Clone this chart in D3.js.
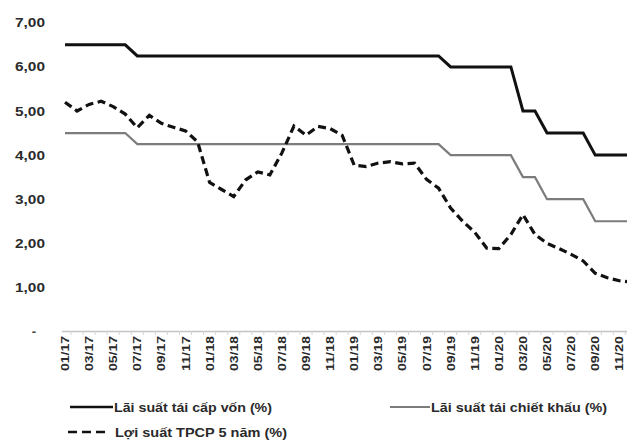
<!DOCTYPE html>
<html><head><meta charset="utf-8">
<script src="https://cdn.jsdelivr.net/npm/d3@7/dist/d3.min.js"></script>
<style>
html,body{margin:0;padding:0;background:#fff;}
svg{display:block;font-family:"Liberation Sans Narrow","Liberation Sans",Arial,sans-serif;}
</style></head>
<body><svg id="chart" width="627" height="444"></svg>
<script>
const categories = ["01/17","02/17","03/17","04/17","05/17","06/17","07/17","08/17","09/17","10/17","11/17","12/17",
"01/18","02/18","03/18","04/18","05/18","06/18","07/18","08/18","09/18","10/18","11/18","12/18",
"01/19","02/19","03/19","04/19","05/19","06/19","07/19","08/19","09/19","10/19","11/19","12/19",
"01/20","02/20","03/20","04/20","05/20","06/20","07/20","08/20","09/20","10/20","11/20","12/20"];
const refinancing = [6.5,6.5,6.5,6.5,6.5,6.5,6.25,6.25,6.25,6.25,6.25,6.25,
6.25,6.25,6.25,6.25,6.25,6.25,6.25,6.25,6.25,6.25,6.25,6.25,
6.25,6.25,6.25,6.25,6.25,6.25,6.25,6.25,6.0,6.0,6.0,6.0,
6.0,6.0,5.0,5.0,4.5,4.5,4.5,4.5,4.0,4.0,4.0,4.0];
const discount = [4.5,4.5,4.5,4.5,4.5,4.5,4.25,4.25,4.25,4.25,4.25,4.25,
4.25,4.25,4.25,4.25,4.25,4.25,4.25,4.25,4.25,4.25,4.25,4.25,
4.25,4.25,4.25,4.25,4.25,4.25,4.25,4.25,4.0,4.0,4.0,4.0,
4.0,4.0,3.5,3.5,3.0,3.0,3.0,3.0,2.5,2.5,2.5,2.5];
const bond5y = [5.2,5.0,5.15,5.22,5.1,4.93,4.62,4.9,4.72,4.63,4.55,4.3,
3.38,3.22,3.06,3.44,3.62,3.55,4.05,4.66,4.45,4.65,4.6,4.45,
3.77,3.74,3.82,3.85,3.8,3.82,3.45,3.25,2.8,2.5,2.25,1.89,
1.88,2.2,2.65,2.2,2.0,1.88,1.75,1.6,1.32,1.22,1.15,1.12];
const yTicks = [0,1,2,3,4,5,6,7];
const yTickLabels = ["-","1,00","2,00","3,00","4,00","5,00","6,00","7,00"];
const seriesNames = ["Lãi suất tái cấp vốn (%)","Lãi suất tái chiết khấu (%)","Lợi suất TPCP 5 năm (%)"];

const svg = d3.select("#chart");
const x = d3.scalePoint().domain(categories).range([65, 631.4]);
const y = d3.scaleLinear().domain([0,7]).range([331.5, 22.8]);

// y labels
const yl = svg.append("g").attr("font-weight","bold");
yTicks.forEach((t,i)=>{
  const lab = yTickLabels[i];
  if(lab === "-"){
    yl.append("text").attr("x",34).attr("y",y(t)+4).attr("text-anchor","middle")
      .attr("font-size",13).attr("fill","#444").text(lab);
  } else {
    yl.append("text").attr("x",45).attr("y",y(t)+4.5).attr("text-anchor","end")
      .attr("font-size",13.5).attr("fill","#2a2a2a").attr("textLength",30).attr("lengthAdjust","spacingAndGlyphs").text(lab);
  }
});

// x axis
const step = x.step();
const ax = svg.append("g");
ax.append("line").attr("x1",62).attr("x2",627).attr("y1",331.5).attr("y2",331.5)
  .attr("stroke","#c4c4c4").attr("stroke-width",1.5);
categories.forEach((c,i)=>{
  ax.append("line").attr("x1",x(c)+step/2).attr("x2",x(c)+step/2).attr("y1",331.5).attr("y2",335)
    .attr("stroke","#d4d4d4").attr("stroke-width",1);
  if(i%2===0){
    ax.append("text")
      .attr("transform",`translate(${x(c)+4},336) rotate(-90)`)
      .attr("text-anchor","end").attr("font-size",11.5).attr("font-weight","bold").attr("fill","#2a2a2a")
      .attr("textLength",35).attr("lengthAdjust","spacingAndGlyphs").text(c);
  }
});

const line = d3.line().x((d,i)=>x(categories[i])).y(d=>y(d));
svg.append("path").datum(discount).attr("d",line).attr("fill","none")
  .attr("stroke","#7c7c7c").attr("stroke-width",2.2);
svg.append("path").datum(refinancing).attr("d",line).attr("fill","none")
  .attr("stroke","#111").attr("stroke-width",3);
svg.append("path").datum(bond5y).attr("d",line).attr("fill","none")
  .attr("stroke","#111").attr("stroke-width",3.2).attr("stroke-dasharray","8,4.5");

// legend
const lg = svg.append("g").attr("font-size",12.5).attr("font-weight","bold").attr("fill","#2a2a2a");
lg.append("line").attr("x1",70).attr("x2",113).attr("y1",407).attr("y2",407).attr("stroke","#111").attr("stroke-width",2.5);
lg.append("text").attr("x",114).attr("y",411.5).attr("textLength",158).attr("lengthAdjust","spacingAndGlyphs").text(seriesNames[0]);
lg.append("line").attr("x1",390).attr("x2",430).attr("y1",407).attr("y2",407).attr("stroke","#7c7c7c").attr("stroke-width",2);
lg.append("text").attr("x",431).attr("y",411.5).attr("textLength",176).attr("lengthAdjust","spacingAndGlyphs").text(seriesNames[1]);
lg.append("line").attr("x1",68).attr("x2",110).attr("y1",432).attr("y2",432).attr("stroke","#111").attr("stroke-width",2.5).attr("stroke-dasharray","9,5");
lg.append("text").attr("x",115).attr("y",436.5).attr("textLength",172).attr("lengthAdjust","spacingAndGlyphs").text(seriesNames[2]);
</script></body></html>
